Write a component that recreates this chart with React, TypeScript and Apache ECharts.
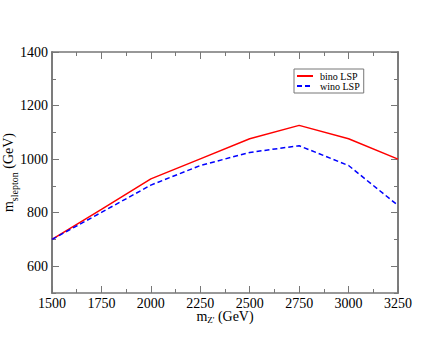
import React, { useEffect, useRef } from "react";
import * as echarts from "echarts";

const mZ = [1500, 1750, 2000, 2250, 2500, 2750, 3000, 3250];
const binoLSP = [700, 812, 926, 1001, 1076, 1126, 1076, 1000];
const winoLSP = [700, 801, 903, 976, 1025, 1050, 976, 827];
const yMajorTicks = [600, 800, 1000, 1200, 1400];
const yMinorTicks = [500, 600, 700, 800, 900, 1000, 1100, 1200, 1300, 1400];

const FONT = "'Liberation Serif', 'Times New Roman', serif";
const AXIS_COLOR = "#777";

export default function App() {
  const ref = useRef<HTMLDivElement>(null);
  useEffect(() => {
    document.body.style.margin = "0";
    const chart = echarts.init(ref.current!, undefined, { renderer: "svg" });
    const axisLine = { show: true, lineStyle: { color: AXIS_COLOR, width: 1.6 } };
    const plain = (v: number) => String(v);
    const xBase = {
      type: "value" as const,
      min: 1500,
      max: 3250,
      interval: 250,
      axisLine,
      splitLine: { show: false },
      axisTick: { show: true, inside: true, length: 7, lineStyle: { color: AXIS_COLOR, width: 1 } },
      minorTick: { show: true, splitNumber: 2, length: 4, lineStyle: { color: AXIS_COLOR, width: 1 } },
    };
    const yBase = {
      type: "value" as const,
      min: 500,
      max: 1400,
      axisLine,
      splitLine: { show: false },
    };
    const richX = {
      a: { fontFamily: FONT, fontSize: 14, lineHeight: 12, color: "#000", verticalAlign: "top" },
      b: { fontFamily: FONT, fontSize: 9, lineHeight: 10, color: "#000", verticalAlign: "top", padding: [6, 0, 0, 0] },
    };
    const richY = {
      a: { fontFamily: FONT, fontSize: 14, lineHeight: 12, color: "#000", verticalAlign: "top" },
      b: { fontFamily: FONT, fontSize: 10, lineHeight: 10, color: "#000", verticalAlign: "top", padding: [8, 0, 0, 0] },
    };
    chart.setOption({
      animation: false,
      backgroundColor: "#fff",
      grid: { left: 52, right: 50, top: 52, bottom: 53, outerBoundsMode: "none", containLabel: false },
      legend: {
        orient: "vertical",
        left: 294,
        top: 69,
        borderColor: "#777",
        borderWidth: 1,
        borderRadius: 0,
        padding: [2, 4, 2, 2],
        itemGap: 0,
        itemWidth: 16,
        itemHeight: 10,
        itemStyle: { opacity: 0 },
        textStyle: { fontFamily: FONT, fontSize: 10, color: "#000", padding: [0, 0, 0, 2] },
        data: ["bino LSP", "wino LSP"],
      },
      xAxis: [
        {
          ...xBase,
          position: "bottom",
          name: "{a|m}{b|Z'}{a| (GeV)}",
          nameLocation: "middle",
          nameGap: 16,
          nameMoveOverlap: false,
          nameTextStyle: { fontFamily: FONT, color: "#000", rich: richX },
          axisLabel: { fontFamily: FONT, fontSize: 14, lineHeight: 12, color: "#000", margin: 4, formatter: plain },
        },
        { ...xBase, position: "top", axisLabel: { show: false } },
      ],
      yAxis: [
        {
          ...yBase,
          position: "left",
          name: "{a|m}{b|slepton}{a| (GeV)}",
          nameLocation: "middle",
          nameGap: 39,
          nameRotate: 90,
          nameMoveOverlap: false,
          nameTextStyle: { fontFamily: FONT, color: "#000", rich: richY },
          axisLabel: { fontFamily: FONT, fontSize: 14, color: "#000", margin: 4, customValues: yMajorTicks, formatter: plain },
          axisTick: { show: true, inside: true, length: 7, customValues: yMajorTicks, lineStyle: { color: AXIS_COLOR, width: 1 } },
        },
        {
          ...yBase,
          position: "left",
          axisLabel: { show: false },
          axisTick: { show: true, inside: true, length: 4, customValues: yMinorTicks, lineStyle: { color: AXIS_COLOR, width: 1 } },
        },
        {
          ...yBase,
          position: "right",
          axisLabel: { show: false },
          axisTick: { show: true, inside: true, length: 7, customValues: yMajorTicks, lineStyle: { color: AXIS_COLOR, width: 1 } },
        },
        {
          ...yBase,
          position: "right",
          axisLabel: { show: false },
          axisTick: { show: true, inside: true, length: 4, customValues: yMinorTicks, lineStyle: { color: AXIS_COLOR, width: 1 } },
        },
      ],
      series: [
        {
          name: "bino LSP",
          type: "line",
          symbol: "none",
          data: mZ.map((x, i) => [x, binoLSP[i]]),
          lineStyle: { color: "#ff0000", width: 1.5, type: "solid" },
          itemStyle: { color: "#ff0000" },
        },
        {
          name: "wino LSP",
          type: "line",
          symbol: "none",
          data: mZ.map((x, i) => [x, winoLSP[i]]),
          lineStyle: { color: "#0000ff", width: 1.5, type: [5, 3] },
          itemStyle: { color: "#0000ff" },
        },
      ],
    });
    return () => chart.dispose();
  }, []);
  return <div ref={ref} style={{ width: 448, height: 346 }} />;
}
